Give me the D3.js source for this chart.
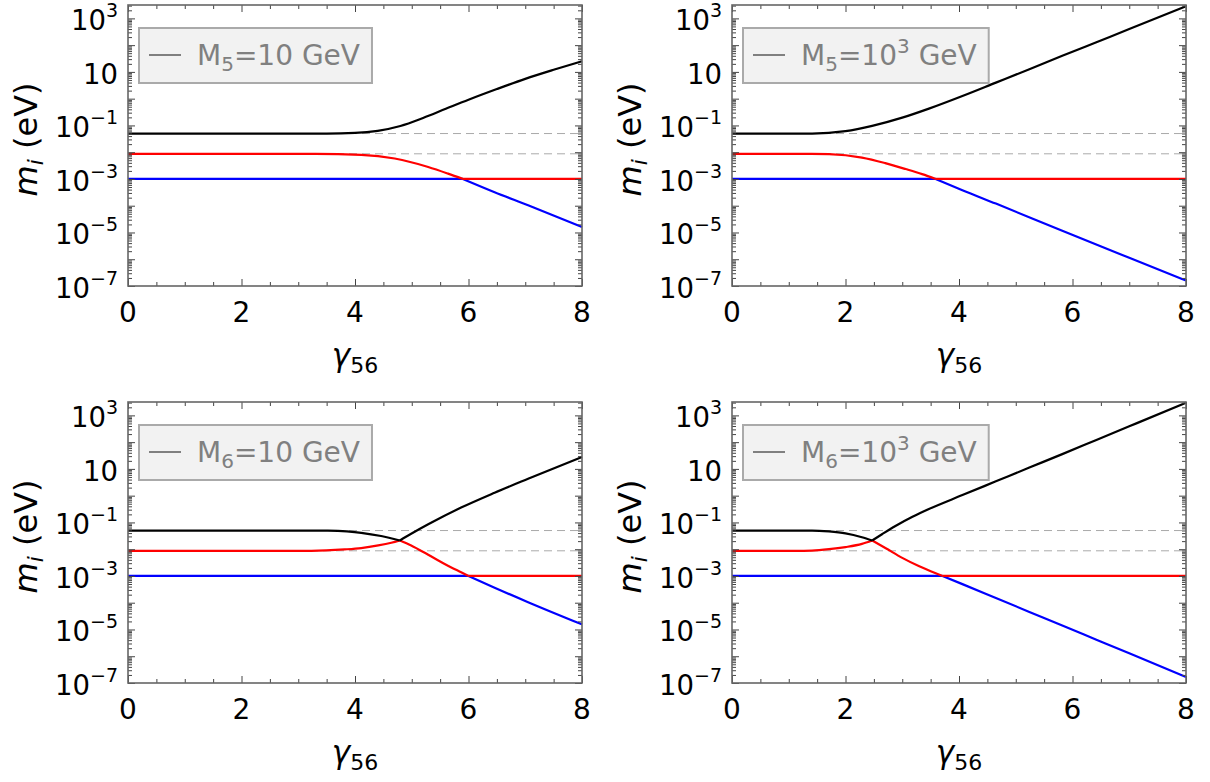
<!DOCTYPE html>
<html>
<head>
<meta charset="utf-8">
<script src="https://cdn.jsdelivr.net/npm/d3@7"></script>
<style>
  html, body { margin: 0; padding: 0; background: #fff; }
  svg { display: block; font-family: "DejaVu Sans", sans-serif; }
</style>
</head>
<body>
<svg id="fig" width="1210" height="782"></svg>
<script>
// Light neutrino masses m_i (eV) against gamma_56, as [gamma, mass] pairs.
// m1 = lightest (blue), m2 = middle (red), m3 = heaviest (black).

// M5 = 10 GeV
const m1_M5_10 = [[0, 0.001], [5.9, 0.001], [6.46, 3.2e-4], [7.05, 1.04e-4], [8, 1.6e-5]];
const m2_M5_10 = [[0, 0.0087], [3.3, 0.0087], [4.11, 0.0080], [4.7, 0.0058], [5.29, 0.0028], [5.64, 0.00158], [5.9, 0.001], [8, 0.001]];
const m3_M5_10 = [[0, 0.0498], [3.5, 0.0498], [4.0, 0.0525], [4.4, 0.063], [4.8, 0.0955], [5.2, 0.19], [5.6, 0.417], [6.0, 0.912], [6.5, 2.29], [7.0, 5.5], [7.5, 12.0], [8, 25.1]];
const kinks_M5_10 = [5.9];

// M5 = 10^3 GeV
const m1_M5_1000 = [[0, 0.001], [3.59, 0.001], [4.06, 3.8e-4], [4.65, 1.2e-4], [5.82, 1.15e-5], [7.0, 1.13e-6], [8, 1.6e-7]];
const m2_M5_1000 = [[0, 0.0087], [1.4, 0.0087], [1.71, 0.0085], [2.29, 0.0063], [2.7, 0.0039], [3.06, 0.00234], [3.35, 0.00151], [3.59, 0.001], [8, 0.001]];
const m3_M5_1000 = [[0, 0.0498], [1.41, 0.0498], [2.0, 0.061], [2.47, 0.096], [3.0, 0.195], [3.47, 0.425], [4.06, 1.26], [4.65, 3.98], [5.24, 12.6], [5.82, 39.8], [6.41, 126], [7.0, 398], [8, 2818]];
const kinks_M5_1000 = [3.59];

// M6 = 10 GeV
const m1_M6_10 = [[0, 0.001], [6.0, 0.001], [6.46, 3.63e-4], [7.05, 1.05e-4], [8, 1.55e-5]];
const m2_M6_10 = [[0, 0.0087], [3.23, 0.0087], [3.82, 0.0098], [4.11, 0.011], [4.41, 0.0138], [4.64, 0.0174], [4.79, 0.0212], [4.99, 0.0138], [5.29, 0.0062], [5.58, 0.0028], [5.87, 0.00137], [6.0, 0.001], [8, 0.001]];
const m3_M6_10 = [[0, 0.0498], [3.29, 0.0498], [3.52, 0.0490], [4.11, 0.041], [4.46, 0.031], [4.79, 0.0212], [4.99, 0.0377], [5.29, 0.0851], [5.87, 0.36], [6.46, 1.29], [7.05, 4.27], [8, 28]];
const kinks_M6_10 = [4.79, 6.0];

// M6 = 10^3 GeV
const m1_M6_1000 = [[0, 0.001], [3.71, 0.001], [4.06, 4.95e-4], [4.65, 1.5e-4], [5.24, 4.54e-5], [5.82, 1.40e-5], [6.41, 4.25e-6], [7.0, 1.29e-6], [8, 1.66e-7]];
const m2_M6_1000 = [[0, 0.0087], [1.12, 0.0087], [1.41, 0.0089], [1.71, 0.0100], [2.0, 0.0120], [2.29, 0.0158], [2.47, 0.0212], [2.71, 0.0109], [3.0, 0.00474], [3.29, 0.00235], [3.59, 0.00126], [3.71, 0.001], [8, 0.001]];
const m3_M6_1000 = [[0, 0.0498], [1.41, 0.0498], [1.71, 0.046], [2.0, 0.039], [2.29, 0.028], [2.47, 0.0212], [2.65, 0.0371], [2.88, 0.0738], [3.18, 0.163], [3.47, 0.318], [4.06, 1.05], [4.65, 3.43], [5.24, 11.2], [5.82, 35.7], [6.41, 118], [7.0, 390], [8, 2960]];
const kinks_M6_1000 = [2.47, 3.71];

// Reference masses drawn as dashed guides (eV)
const referenceMasses = [0.0498, 0.0087];

// Axis ticks and labels
const xMajorTicks = [0, 2, 4, 6, 8];
const xMinorTicks = [0.5, 1, 1.5, 2.5, 3, 3.5, 4.5, 5, 5.5, 6.5, 7, 7.5];
const yLabelExponents = [-7, -5, -3, -1, 1, 3];
const yDecades = [-7, -6, -5, -4, -3, -2, -1, 0, 1, 2, 3];

const seriesColors = ["#0000ff", "#ff0000", "#000000"];

const panels = [
  { left: 128, top: 5, series: [m1_M5_10, m2_M5_10, m3_M5_10], kinks: kinks_M5_10, sub: "5", power: null },
  { left: 732, top: 5, series: [m1_M5_1000, m2_M5_1000, m3_M5_1000], kinks: kinks_M5_1000, sub: "5", power: "3" },
  { left: 128, top: 402, series: [m1_M6_10, m2_M6_10, m3_M6_10], kinks: kinks_M6_10, sub: "6", power: null },
  { left: 732, top: 402, series: [m1_M6_1000, m2_M6_1000, m3_M6_1000], kinks: kinks_M6_1000, sub: "6", power: "3" }
];
const PW = 454, PH = 281;

const svg = d3.select("#fig");
svg.append("rect").attr("width", 1210).attr("height", 782).attr("fill", "#fff");

// split a series into smooth pieces at the kink positions
function splitAtKinks(points, kinks) {
  const pieces = [];
  let cur = [];
  points.forEach((p, i) => {
    cur.push(p);
    if (i > 0 && i < points.length - 1 && kinks.some(k => Math.abs(k - p[0]) < 1e-9)) {
      pieces.push(cur);
      cur = [p];
    }
  });
  pieces.push(cur);
  return pieces;
}

panels.forEach(P => {
  const g = svg.append("g");
  const x = d3.scaleLinear().domain([0, 8]).range([P.left, P.left + PW]);
  const y = d3.scaleLog().domain([1e-7, Math.pow(10, 3.5)]).range([P.top + PH, P.top]);

  const yMinor = [];
  yDecades.forEach(d => {
    for (let k = 2; k <= 9; k++) {
      const v = k * Math.pow(10, d);
      if (v < Math.pow(10, 3.5)) yMinor.push(v);
    }
  });
  const yMajor = yDecades.map(d => Math.pow(10, d));

  // dashed guides
  g.selectAll("line.ref").data(referenceMasses).join("line")
    .attr("x1", x(0)).attr("x2", x(8))
    .attr("y1", d => y(d)).attr("y2", d => y(d))
    .attr("stroke", "#aaaaaa").attr("stroke-width", 1).attr("stroke-dasharray", "8,5");

  // curves
  const line = d3.line().x(d => x(d[0])).y(d => y(d[1])).curve(d3.curveMonotoneX);
  P.series.forEach((s, i) => {
    splitAtKinks(s, P.kinks).forEach(piece => {
      g.append("path").attr("d", line(piece)).attr("fill", "none")
        .attr("stroke", seriesColors[i]).attr("stroke-width", 2.2)
        .attr("stroke-linejoin", "round");
    });
  });

  // ticks (inward on all four sides)
  const tickStyle = sel => {
    sel.select(".domain").remove();
    sel.selectAll(".tick line").attr("stroke", "#444").attr("stroke-width", 1);
  };
  const fmt = () => "";
  g.append("g").attr("transform", `translate(0,${P.top + PH})`)
    .call(d3.axisBottom(x).tickValues(xMinorTicks).tickSize(-4).tickFormat(fmt)).call(tickStyle);
  g.append("g").attr("transform", `translate(0,${P.top + PH})`)
    .call(d3.axisBottom(x).tickValues(xMajorTicks).tickSize(-7).tickFormat(fmt)).call(tickStyle);
  g.append("g").attr("transform", `translate(0,${P.top})`)
    .call(d3.axisTop(x).tickValues(xMinorTicks).tickSize(-4).tickFormat(fmt)).call(tickStyle);
  g.append("g").attr("transform", `translate(0,${P.top})`)
    .call(d3.axisTop(x).tickValues(xMajorTicks).tickSize(-7).tickFormat(fmt)).call(tickStyle);
  g.append("g").attr("transform", `translate(${P.left},0)`)
    .call(d3.axisLeft(y).tickValues(yMinor).tickSize(-4).tickFormat(fmt)).call(tickStyle);
  g.append("g").attr("transform", `translate(${P.left},0)`)
    .call(d3.axisLeft(y).tickValues(yMajor).tickSize(-7).tickFormat(fmt)).call(tickStyle);
  g.append("g").attr("transform", `translate(${P.left + PW},0)`)
    .call(d3.axisRight(y).tickValues(yMinor).tickSize(-4).tickFormat(fmt)).call(tickStyle);
  g.append("g").attr("transform", `translate(${P.left + PW},0)`)
    .call(d3.axisRight(y).tickValues(yMajor).tickSize(-7).tickFormat(fmt)).call(tickStyle);

  // frame
  g.append("rect").attr("x", P.left).attr("y", P.top).attr("width", PW).attr("height", PH)
    .attr("fill", "none").attr("stroke", "#666").attr("stroke-width", 1.6);

  // x tick labels
  g.selectAll("text.xl").data(xMajorTicks).join("text")
    .attr("x", d => x(d)).attr("y", P.top + PH + 36)
    .attr("text-anchor", "middle").attr("font-size", 28).attr("fill", "#000")
    .text(d => d);

  // y tick labels: 10^n
  yLabelExponents.forEach(e => {
    const t = g.append("text").attr("x", P.left - 10).attr("y", y(Math.pow(10, e)) + 12)
      .attr("text-anchor", "end").attr("font-size", 27.5).attr("fill", "#000");
    t.append("tspan").text("10");
    if (e !== 1) {
      t.append("tspan").attr("dy", -13).attr("font-size", 19)
        .text(e < 0 ? "\u2212" + (-e) : String(e));
    }
  });

  // y axis title: m_i (eV)
  const yt = g.append("text")
    .attr("transform", `translate(${P.left - 91},${P.top + PH / 2 - 6}) rotate(-90)`)
    .attr("text-anchor", "middle").attr("font-size", 32).attr("fill", "#000");
  yt.append("tspan").attr("font-style", "italic").text("m");
  yt.append("tspan").attr("font-style", "italic").attr("font-size", 22).attr("dy", 6).text("i");
  yt.append("tspan").attr("dy", -6).text(" (eV)");

  // x axis title: gamma_56
  const xt = g.append("text")
    .attr("x", P.left + PW / 2).attr("y", P.top + PH + 80)
    .attr("text-anchor", "middle").attr("font-size", 31).attr("fill", "#000");
  xt.append("tspan").attr("font-style", "italic").text("\u03b3");
  xt.append("tspan").attr("font-size", 22).attr("dy", 7).text("56");

  // legend
  const lg = g.append("g");
  const box = lg.append("rect").attr("x", P.left + 11).attr("y", P.top + 23)
    .attr("height", 55).attr("fill", "#f2f2f2").attr("stroke", "#aaaaaa").attr("stroke-width", 2);
  lg.append("line").attr("x1", P.left + 21).attr("x2", P.left + 53)
    .attr("y1", P.top + 50).attr("y2", P.top + 50)
    .attr("stroke", "#808080").attr("stroke-width", 2);
  const lt = lg.append("text").attr("x", P.left + 69).attr("y", P.top + 60)
    .attr("font-size", 28).attr("fill", "#808080");
  lt.append("tspan").text("M");
  lt.append("tspan").attr("font-size", 20).attr("dy", 6).text(P.sub);
  if (P.power) {
    lt.append("tspan").attr("dy", -6).text("=10");
    lt.append("tspan").attr("font-size", 20).attr("dy", -12).text(P.power);
    lt.append("tspan").attr("dy", 12).text(" GeV");
  } else {
    lt.append("tspan").attr("dy", -6).text("=10 GeV");
  }
  const bb = lt.node().getBBox();
  box.attr("width", bb.x + bb.width + 12 - (P.left + 11));
});
</script>
</body>
</html>
